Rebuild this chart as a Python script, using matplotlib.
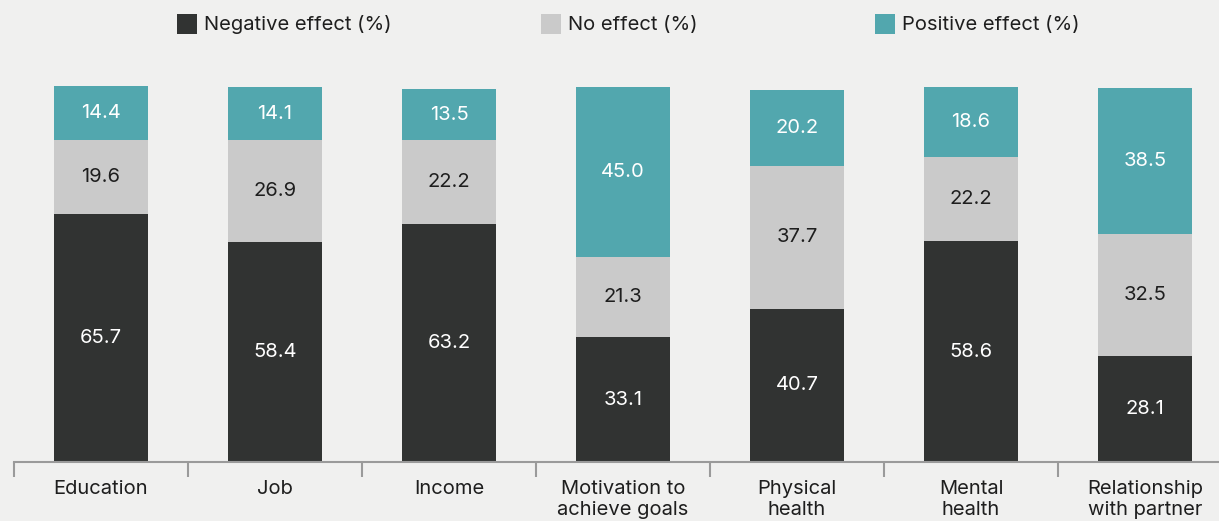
import numpy as np
import matplotlib.pyplot as plt
from matplotlib.patches import Rectangle

plt.rcParams['font.family'] = ['Inter', 'DejaVu Sans']

categories = ["Education", "Job", "Income", "Motivation to\nachieve goals",
              "Physical\nhealth", "Mental\nhealth", "Relationship\nwith partner"]
negative = [65.7, 58.4, 63.2, 33.1, 40.7, 58.6, 28.1]
no_effect = [19.6, 26.9, 22.2, 21.3, 37.7, 22.2, 32.5]
positive = [14.4, 14.1, 13.5, 45.0, 20.2, 18.6, 38.5]
series_names = ["Negative effect (%)", "No effect (%)", "Positive effect (%)"]

bg = "#f0f0ef"
colors = ["#313332", "#cacaca", "#52a7ae"]
text_colors = ["white", "#1e1e1e", "white"]
fs = 14.5

fig = plt.figure(figsize=(12.19, 5.21), dpi=100, facecolor=bg)
ax = fig.add_axes([14 / 1219, 59 / 521, 1205 / 1219, 377 / 521])
ax.set_facecolor(bg)

x = np.arange(len(categories))
bottom = np.zeros(len(categories))
for vals, col, tcol in zip([negative, no_effect, positive], colors, text_colors):
    vals = np.array(vals)
    ax.bar(x, vals, width=0.54, bottom=bottom, color=col, linewidth=0)
    for xi, b, v in zip(x, bottom, vals):
        ax.text(xi, b + v / 2, f"{v:.1f}", ha="center", va="center",
                color=tcol, fontsize=fs)
    bottom += vals

for s in ["top", "right", "left"]:
    ax.spines[s].set_visible(False)
ax.spines["bottom"].set_color("#9a9a9a")
ax.spines["bottom"].set_linewidth(1.5)
ax.set_yticks([])

# boundary ticks (major) and category labels (minor)
ax.set_xticks(np.arange(-0.5, len(categories), 1.0))
ax.set_xticklabels([])
ax.tick_params(axis="x", which="major", length=11, width=1.5, color="#9a9a9a")
ax.set_xticks(x, minor=True)
ax.set_xticklabels(categories, minor=True, fontsize=fs, color="#1e1e1e",
                   linespacing=1.2)
ax.tick_params(axis="x", which="minor", length=0, pad=13)

ax.set_xlim(-0.5, 6.5 - 13 / 174)
ax.set_ylim(0, 100)

# legend
leg_x = [177, 541, 875]
for lx, name, col in zip(leg_x, series_names, colors):
    fig.add_artist(Rectangle((lx / 1219, (521 - 34) / 521), 20 / 1219, 20 / 521,
                             transform=fig.transFigure, color=col, linewidth=0))
    fig.text((lx + 27) / 1219, (521 - 25) / 521, name, fontsize=fs,
             color="#1e1e1e", va="center", ha="left")

fig.savefig("out.png", dpi=100, facecolor=bg)
